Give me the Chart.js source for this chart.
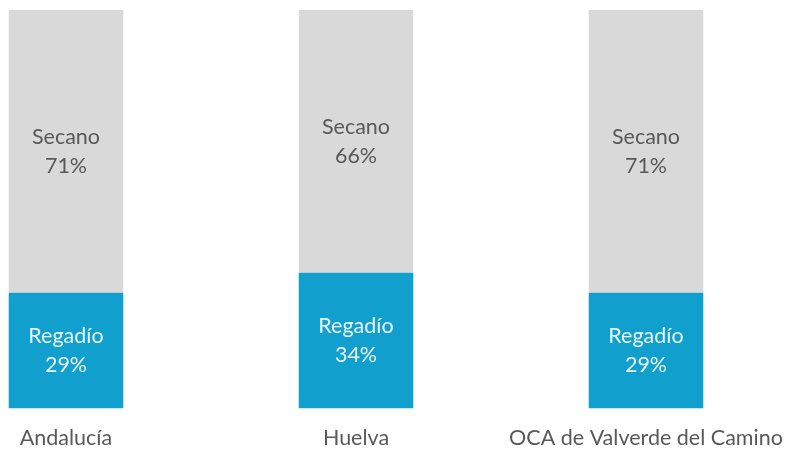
<!DOCTYPE html>
<html>
<head>
<meta charset="utf-8">
<script src="https://cdn.jsdelivr.net/npm/chart.js@4/dist/chart.umd.min.js"></script>
<style>
  html, body { margin: 0; padding: 0; background: #ffffff; }
  #wrap { width: 785px; height: 450px; position: relative; }
</style>
</head>
<body>
<div id="wrap"><canvas id="chart"></canvas></div>
<script>
// Chart data
const zonas = ['Andalucía', 'Huelva', 'OCA de Valverde del Camino'];
const regadio = [29, 34, 29];
const secano = [71, 66, 71];
const seriesNames = ['Regadío', 'Secano'];

const fontFamily = 'Lato, "Open Sans", sans-serif';

// Draws "Name / NN%" in the middle of each bar segment
const segmentLabels = {
    id: 'segmentLabels',
    afterDatasetsDraw(chart) {
        const ctx = chart.ctx;
        chart.data.datasets.forEach((ds, di) => {
            const meta = chart.getDatasetMeta(di);
            meta.data.forEach((bar, i) => {
                const p = bar.getCenterPoint();
                ctx.save();
                ctx.font = '21.5px ' + fontFamily;
                ctx.fillStyle = ds.labelColor;
                ctx.textAlign = 'center';
                ctx.textBaseline = 'middle';
                ctx.fillText(ds.label, p.x, p.y - 14);
                ctx.fillText(ds.data[i] + '%', p.x, p.y + 15);
                ctx.restore();
            });
        });
    }
};

const ctx = document.getElementById('chart').getContext('2d');
new Chart(ctx, {
    type: 'bar',
    data: {
        labels: zonas,
        datasets: [{
            label: seriesNames[0],
            data: regadio,
            backgroundColor: '#119FCE',
            labelColor: '#E8F6FB',
            categoryPercentage: 1,
            barPercentage: 0.395,
            clip: false
        }, {
            label: seriesNames[1],
            data: secano,
            backgroundColor: '#D9D9D9',
            labelColor: '#595959',
            categoryPercentage: 1,
            barPercentage: 0.395,
            clip: false
        }]
    },
    options: {
        responsive: true,
        maintainAspectRatio: false,
        animation: false,
        layout: {
            padding: { left: 66, right: 139, top: 10, bottom: -18 }
        },
        plugins: {
            legend: { display: false },
            tooltip: { enabled: false }
        },
        scales: {
            x: {
                stacked: true,
                offset: false,
                grid: { display: false, drawTicks: false },
                border: { display: false },
                // keep the chart area fixed by the layout padding only
                afterFit: function (scale) {
                    scale.paddingLeft = 0;
                    scale.paddingRight = 0;
                },
                ticks: {
                    padding: 17,
                    color: '#595959',
                    maxRotation: 0,
                    autoSkip: false,
                    font: { family: fontFamily, size: 21.5 }
                }
            },
            y: {
                stacked: true,
                display: false,
                min: 0,
                max: 100
            }
        }
    },
    plugins: [segmentLabels]
});
</script>
</body>
</html>
